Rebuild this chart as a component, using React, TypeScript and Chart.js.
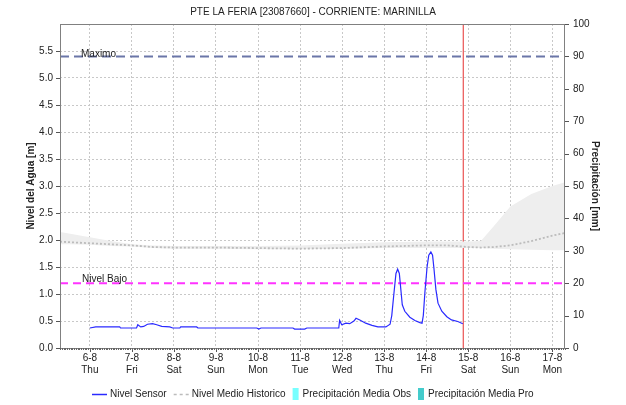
import React, { useEffect, useRef } from 'react';
import { Chart, registerables } from 'chart.js';

Chart.register(...registerables);

const FONT = "'Liberation Sans', Arial, sans-serif";
const TITLE = 'PTE LA FERIA [23087660] - CORRIENTE: MARINILLA';

// x values are days of August (6 = Aug 6 00:00)
const X_MIN = 5.29;
const X_MAX = 17.3;
const NOW_X = 14.88;

const dayTicks = [6, 7, 8, 9, 10, 11, 12, 13, 14, 15, 16, 17];
const dayLabels = ['6-8', '7-8', '8-8', '9-8', '10-8', '11-8', '12-8', '13-8', '14-8', '15-8', '16-8', '17-8'];
const weekdays = ['Thu', 'Fri', 'Sat', 'Sun', 'Mon', 'Tue', 'Wed', 'Thu', 'Fri', 'Sat', 'Sun', 'Mon'];

const levelTicks = [0, 0.5, 1, 1.5, 2, 2.5, 3, 3.5, 4, 4.5, 5, 5.5];
const precipTicks = [0, 10, 20, 30, 40, 50, 60, 70, 80, 90, 100];

const MAXIMO = 5.4;
const NIVEL_BAJO = 1.2;

const sensorX = [6.00, 6.14, 6.71, 6.73, 7.11, 7.14, 7.21, 7.28, 7.37, 7.49, 7.59, 7.71, 7.90, 7.97, 8.14, 8.16, 8.54, 8.57, 9.97, 10.02, 10.07, 10.83, 10.87, 11.11, 11.16, 11.92, 11.94, 11.99, 12.09, 12.18, 12.28, 12.33, 12.42, 12.56, 12.71, 12.85, 13.04, 13.14, 13.18, 13.23, 13.28, 13.32, 13.36, 13.40, 13.43, 13.49, 13.61, 13.73, 13.85, 13.90, 13.93, 13.97, 14.02, 14.06, 14.11, 14.15, 14.18, 14.23, 14.28, 14.37, 14.49, 14.60, 14.75, 14.87];
const sensorLevel = [0.37, 0.39, 0.39, 0.37, 0.37, 0.43, 0.39, 0.40, 0.44, 0.45, 0.43, 0.40, 0.39, 0.37, 0.37, 0.39, 0.39, 0.37, 0.37, 0.35, 0.37, 0.37, 0.35, 0.35, 0.37, 0.37, 0.51, 0.43, 0.46, 0.45, 0.50, 0.55, 0.52, 0.46, 0.42, 0.39, 0.39, 0.44, 0.6, 1.0, 1.38, 1.46, 1.38, 1.05, 0.80, 0.68, 0.57, 0.51, 0.47, 0.46, 0.6, 1.05, 1.5, 1.72, 1.78, 1.72, 1.5, 1.08, 0.83, 0.68, 0.58, 0.52, 0.49, 0.45];

const histX = [5.29, 5.5, 6.0, 6.5, 7.0, 7.5, 8, 9, 10, 11, 12, 13, 14, 14.5, 15, 15.3, 15.6, 16, 16.5, 17, 17.3];
const histMean = [1.97, 1.96, 1.94, 1.92, 1.90, 1.87, 1.86, 1.86, 1.85, 1.84, 1.85, 1.88, 1.90, 1.90, 1.87, 1.86, 1.87, 1.90, 1.98, 2.08, 2.13];
const histUpper = [2.15, 2.12, 2.05, 1.98, 1.92, 1.90, 1.89, 1.89, 1.89, 1.90, 1.93, 1.96, 1.97, 1.97, 1.97, 1.98, 2.25, 2.62, 2.85, 3.0, 3.07];
const histLower = [1.92, 1.92, 1.91, 1.89, 1.88, 1.85, 1.84, 1.84, 1.83, 1.83, 1.84, 1.85, 1.85, 1.85, 1.85, 1.85, 1.84, 1.83, 1.82, 1.81, 1.81];

const precipObs: number[] = [];
const precipPro: number[] = [];

const MEAN_COLOR = '#bcbcbc';

const legendItems = [
  { text: 'Nivel Sensor', kind: 'line', color: '#2a2aff', dash: [] as number[] },
  { text: 'Nivel Medio Historico', kind: 'line', color: MEAN_COLOR, dash: [3, 3] },
  { text: 'Precipitación Media Obs', kind: 'rect', color: '#77ffff', dash: [] as number[] },
  { text: 'Precipitación Media Pro', kind: 'rect', color: '#44cccc', dash: [] as number[] },
];

const pts = (xs: number[], ys: number[]) => xs.map((x, i) => ({ x, y: ys[i] }));

const decorPlugin = {
  id: 'decor',
  afterDraw(chart: any) {
    const { ctx, chartArea: a, scales } = chart;
    const x = scales.x, y = scales.y, y1 = scales.y1;
    ctx.save();
    // frame
    ctx.strokeStyle = '#808080';
    ctx.lineWidth = 1;
    ctx.setLineDash([]);
    ctx.strokeRect(Math.round(a.left) + 0.5, Math.round(a.top) + 0.5, Math.round(a.right - a.left) - 1, Math.round(a.bottom - a.top));
    // tick marks
    ctx.strokeStyle = '#555';
    ctx.beginPath();
    for (const t of levelTicks) {
      const py = Math.round(y.getPixelForValue(t)) + 0.5;
      ctx.moveTo(a.left - 4, py); ctx.lineTo(a.left, py);
    }
    for (const t of precipTicks) {
      const py = Math.round(y1.getPixelForValue(t)) + 0.5;
      ctx.moveTo(a.right, py); ctx.lineTo(a.right + 4, py);
    }
    for (const t of dayTicks) {
      const px = Math.round(x.getPixelForValue(t)) + 0.5;
      ctx.moveTo(px, a.bottom); ctx.lineTo(px, a.bottom + 4);
    }
    ctx.stroke();
    ctx.strokeStyle = '#666';
    ctx.beginPath();
    for (let h = Math.ceil(X_MIN * 24); h <= Math.floor(X_MAX * 24); h++) {
      const px = Math.round(x.getPixelForValue(h / 24)) + 0.5;
      ctx.moveTo(px, a.bottom); ctx.lineTo(px, a.bottom + 2);
    }
    ctx.stroke();
    // threshold labels
    ctx.fillStyle = '#222';
    ctx.font = `10px ${FONT}`;
    ctx.textBaseline = 'alphabetic';
    ctx.textAlign = 'left';
    ctx.fillText('Maximo', 81, y.getPixelForValue(MAXIMO) + 0.5);
    ctx.fillText('Nivel Bajo', 82, y.getPixelForValue(NIVEL_BAJO) - 1);
    // legend
    const ly = 394;
    const gapItem = 7;
    const widths = legendItems.map((it) => {
      const sw = it.kind === 'line' ? 15 : 6;
      const g = it.kind === 'line' ? 3 : 4;
      return sw + g + ctx.measureText(it.text).width;
    });
    const total = widths.reduce((s, w) => s + w, 0) + gapItem * (legendItems.length - 1);
    let cx = Math.round(chart.width / 2 - total / 2);
    ctx.textBaseline = 'middle';
    legendItems.forEach((it, i) => {
      if (it.kind === 'line') {
        ctx.strokeStyle = it.color;
        ctx.lineWidth = 1.5;
        ctx.setLineDash(it.dash);
        ctx.beginPath();
        ctx.moveTo(cx, ly + 0.5); ctx.lineTo(cx + 15, ly + 0.5);
        ctx.stroke();
        ctx.setLineDash([]);
        ctx.fillStyle = '#222';
        ctx.fillText(it.text, cx + 18, ly);
      } else {
        ctx.fillStyle = it.color;
        ctx.fillRect(cx, ly - 6, 6, 12);
        ctx.fillStyle = '#222';
        ctx.fillText(it.text, cx + 10, ly);
      }
      cx += widths[i] + gapItem;
    });
    ctx.restore();
  },
};

export default function App() {
  const ref = useRef<HTMLCanvasElement | null>(null);
  useEffect(() => {
    document.body.style.margin = '0';
    const canvas = ref.current!;
    const gridColor = '#c8c8c8';
    const chart = new Chart(canvas, {
      type: 'line',
      data: {
        datasets: [
          { label: 'Nivel Sensor', data: pts(sensorX, sensorLevel), borderColor: '#2a2aff', borderWidth: 1.2, pointRadius: 0, tension: 0, fill: false },
          { label: 'Nivel Medio Historico', data: pts(histX, histMean), borderColor: MEAN_COLOR, borderWidth: 1.8, borderDash: [2, 2], pointRadius: 0, fill: false },
          { label: 'Historico max', data: pts(histX, histUpper), borderWidth: 0, borderColor: 'rgba(0,0,0,0)', backgroundColor: '#eeeeee', pointRadius: 0, fill: '+1' },
          { label: 'Historico min', data: pts(histX, histLower), borderWidth: 0, borderColor: 'rgba(0,0,0,0)', pointRadius: 0, fill: false },
          { label: 'Maximo', data: [{ x: X_MIN, y: MAXIMO }, { x: X_MAX, y: MAXIMO }], borderColor: '#6b76a8', borderWidth: 2, borderDash: [9, 5], pointRadius: 0, fill: false },
          { label: 'Nivel Bajo', data: [{ x: X_MIN, y: NIVEL_BAJO }, { x: X_MAX, y: NIVEL_BAJO }], borderColor: '#ff33ff', borderWidth: 2, borderDash: [8, 5], pointRadius: 0, fill: false },
          { label: 'Ahora', data: [{ x: NOW_X, y: 0 }, { x: NOW_X, y: 6 }], borderColor: '#e53030', borderWidth: 1, pointRadius: 0, fill: false },
          { label: 'Precipitación Media Obs', data: precipObs, yAxisID: 'y1', borderColor: '#77ffff', backgroundColor: '#77ffff', pointRadius: 0 },
          { label: 'Precipitación Media Pro', data: precipPro, yAxisID: 'y1', borderColor: '#44cccc', backgroundColor: '#44cccc', pointRadius: 0 },
        ] as any,
      },
      options: {
        animation: false,
        responsive: false,
        layout: { padding: 0 },
        plugins: {
          legend: { display: false },
          tooltip: { enabled: false },
          title: {
            display: true,
            text: TITLE,
            color: '#222',
            font: { family: FONT, size: 10, weight: 'normal' },
            padding: { top: 6, bottom: 6 },
          },
        },
        scales: {
          x: {
            type: 'linear',
            min: X_MIN,
            max: X_MAX,
            afterBuildTicks: (s: any) => { s.ticks = dayTicks.map((v) => ({ value: v })); },
            afterFit: (s: any) => { s.height = 57; },
            ticks: {
              autoSkip: false,
              maxRotation: 0,
              padding: 4,
              color: '#222',
              font: { family: FONT, size: 10 },
              callback: (v: any) => { const i = dayTicks.indexOf(Number(v)); return [dayLabels[i], weekdays[i]]; },
            },
            grid: { color: gridColor, lineWidth: 1, drawTicks: false },
            border: { display: false, dash: [2, 2] },
          },
          y: {
            type: 'linear',
            position: 'left',
            min: 0,
            max: 6,
            afterBuildTicks: (s: any) => { s.ticks = levelTicks.map((v) => ({ value: v })); },
            afterFit: (s: any) => { s.width = 60; },
            ticks: {
              padding: 7,
              color: '#222',
              font: { family: FONT, size: 10 },
              callback: (v: any) => Number(v).toFixed(1),
            },
            grid: { color: gridColor, lineWidth: 1, drawTicks: false },
            border: { display: false, dash: [2, 2] },
            title: {
              display: true,
              text: 'Nivel del Agua [m]',
              color: '#222',
              font: { family: FONT, size: 10, weight: 'bold' },
              padding: { top: 25, bottom: 0 },
            },
          },
          y1: {
            type: 'linear',
            position: 'right',
            min: 0,
            max: 100,
            afterBuildTicks: (s: any) => { s.ticks = precipTicks.map((v) => ({ value: v })); },
            afterFit: (s: any) => { s.width = 61; },
            ticks: {
              padding: 8,
              color: '#222',
              font: { family: FONT, size: 10 },
              callback: (v: any) => String(v),
            },
            grid: { display: false, drawTicks: false },
            border: { display: false },
            title: {
              display: true,
              text: 'Precipitación [mm]',
              color: '#222',
              font: { family: FONT, size: 10, weight: 'bold' },
              padding: { top: 25, bottom: 0 },
            },
          },
        },
      },
      plugins: [decorPlugin],
    } as any);
    return () => chart.destroy();
  }, []);
  return (
    <div style={{ width: 626, height: 405 }}>
      <canvas ref={ref} width={626} height={405} style={{ display: 'block' }} />
    </div>
  );
}
